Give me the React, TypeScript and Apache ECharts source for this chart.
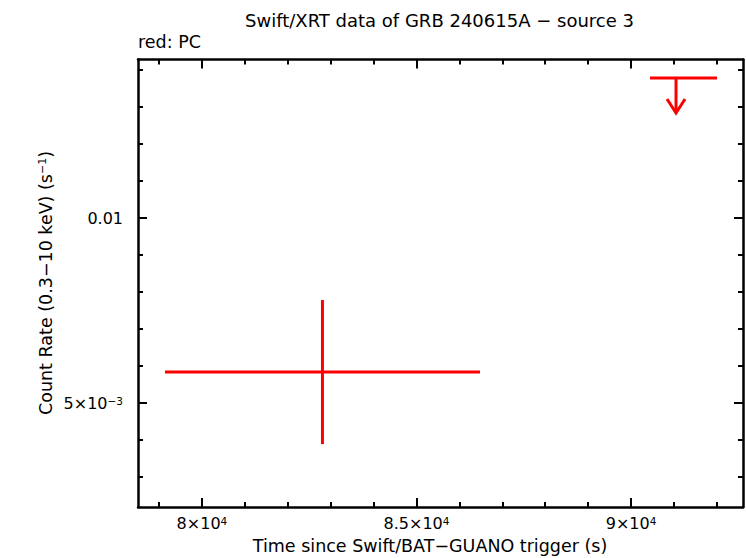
import React, { useEffect, useRef } from "react";
import * as echarts from "echarts";

// Axis ranges
const xMin = 78510;
const xMax = 92610;
const yMin = 0.003387;
const yMax = 0.018113;

// Tick values
const xMajorTicks = [80000, 85000, 90000];
const xMinorTicks = [79000, 81000, 82000, 83000, 84000, 86000, 87000, 88000, 89000, 91000, 92000];
const yMajorTicks = [0.005, 0.01];
const yMinorTicks = [0.0037893, 0.0043528, 0.0057435, 0.0065975, 0.0075786, 0.0087055, 0.011487, 0.013195, 0.015157, 0.017411];

const xTickLabels: Record<number, string> = {
  80000: "{a|8×10}{s|4}",
  85000: "{a|8.5×10}{s|4}",
  90000: "{a|9×10}{s|4}",
};
const yTickLabels: Record<string, string> = {
  "0.005": "{a|5×10}{s|−3}",
  "0.01": "{a|0.01}",
};

// PC detections
const detTime = [82809];
const detTimeLo = [79138];
const detTimeHi = [86480];
const detRate = [0.005615];
const detRateLo = [0.004287];
const detRateHi = [0.007355];

// PC upper limits
const ulTime = [91049];
const ulTimeLo = [90443];
const ulTimeHi = [92005];
const ulRate = [0.0169];

const FONT = "DejaVu Sans";
const RED = "#ff0000";

export default function App() {
  const ref = useRef<HTMLDivElement>(null);

  useEffect(() => {
    if (!ref.current) return;
    const chart = echarts.init(ref.current, null, { renderer: "svg" });

    const richTick = {
      a: { fontSize: 16, fontFamily: FONT, color: "#000" },
      s: { fontSize: 10.5, fontFamily: FONT, color: "#000", verticalAlign: "top" as const },
    };
    const axisLine = { show: true, lineStyle: { color: "#000", width: 2.5 } };
    const noLine = { show: false };

    const mkX = (pos: "bottom" | "top", major: boolean, line: boolean, labels: boolean) => ({
      type: "value" as const,
      position: pos,
      min: xMin,
      max: xMax,
      gridIndex: 0,
      axisLine: line ? axisLine : noLine,
      splitLine: { show: false },
      axisTick: {
        show: true,
        inside: true,
        length: major ? 9 : 5,
        lineStyle: { color: "#000", width: 2 },
        customValues: major ? xMajorTicks : xMinorTicks,
      },
      axisLabel: labels
        ? {
            show: true,
            margin: 8,
            customValues: xMajorTicks,
            formatter: (v: number) => xTickLabels[Math.round(v)] ?? "",
            rich: richTick,
          }
        : { show: false },
    });

    const mkY = (pos: "left" | "right", major: boolean, line: boolean, labels: boolean) => ({
      type: "log" as const,
      logBase: 10,
      position: pos,
      min: yMin,
      max: yMax,
      gridIndex: 0,
      axisLine: line ? axisLine : noLine,
      splitLine: { show: false },
      minorTick: { show: false },
      axisTick: {
        show: true,
        inside: true,
        length: major ? 9 : 5,
        lineStyle: { color: "#000", width: 2 },
        customValues: major ? yMajorTicks : yMinorTicks,
      },
      axisLabel: labels
        ? {
            show: true,
            margin: 15,
            customValues: yMajorTicks,
            formatter: (v: number) => {
              const k = String(Math.round(v * 1000) / 1000);
              return yTickLabels[k] ?? "";
            },
            rich: richTick,
          }
        : { show: false },
    });

    const detData = detTime.map((t, i) => [t, detTimeLo[i], detTimeHi[i], detRate[i], detRateLo[i], detRateHi[i]]);
    const ulData = ulTime.map((t, i) => [t, ulTimeLo[i], ulTimeHi[i], ulRate[i]]);

    const option: any = {
      animation: false,
      backgroundColor: "#fff",
      grid: { left: 138, top: 59.5, right: 3, bottom: 51, containLabel: false },
      xAxis: [
        mkX("bottom", true, true, true),
        mkX("bottom", false, false, false),
        mkX("top", true, true, false),
        mkX("top", false, false, false),
      ],
      yAxis: [
        mkY("left", true, true, true),
        mkY("left", false, false, false),
        mkY("right", true, true, false),
        mkY("right", false, false, false),
      ],
      graphic: [
        {
          type: "text",
          x: 439.5,
          y: 20,
          style: {
            text: "Swift/XRT data of GRB 240615A − source 3",
            font: `18px "${FONT}"`,
            fill: "#000",
            align: "center",
            verticalAlign: "middle",
          },
        },
        {
          type: "text",
          x: 138,
          y: 42,
          style: {
            text: "red: PC",
            font: `17.5px "${FONT}"`,
            fill: "#000",
            align: "left",
            verticalAlign: "middle",
          },
        },
        {
          type: "text",
          x: 430,
          y: 546,
          style: {
            text: "Time since Swift/BAT−GUANO trigger (s)",
            font: `17.5px "${FONT}"`,
            fill: "#000",
            align: "center",
            verticalAlign: "middle",
          },
        },
        {
          type: "text",
          x: 46,
          y: 283,
          rotation: Math.PI / 2,
          style: {
            text: "{a|Count Rate (0.3−10 keV) (s}{s|−1}{a|)}",
            rich: {
              a: { fontSize: 17.5, fontFamily: FONT, fill: "#000" },
              s: { fontSize: 11, fontFamily: FONT, fill: "#000", verticalAlign: "top" },
            },
            align: "center",
            verticalAlign: "middle",
          },
        },
      ],
      series: [
        {
          type: "custom",
          name: "PC",
          xAxisIndex: 0,
          yAxisIndex: 0,
          data: detData,
          encode: { x: 0, y: 3 },
          renderItem: (params: any, api: any) => {
            const x = api.value(0);
            const y = api.value(3);
            const pl = api.coord([api.value(1), y]);
            const ph = api.coord([api.value(2), y]);
            const pyl = api.coord([x, api.value(4)]);
            const pyh = api.coord([x, api.value(5)]);
            const st = { stroke: RED, lineWidth: 3 };
            return {
              type: "group",
              children: [
                { type: "line", shape: { x1: pl[0], y1: pl[1], x2: ph[0], y2: ph[1] }, style: st },
                { type: "line", shape: { x1: pyl[0], y1: pyl[1], x2: pyh[0], y2: pyh[1] }, style: st },
              ],
            };
          },
        },
        {
          type: "custom",
          name: "PC UL",
          xAxisIndex: 0,
          yAxisIndex: 0,
          data: ulData,
          encode: { x: 0, y: 3 },
          renderItem: (params: any, api: any) => {
            const x = api.value(0);
            const y = api.value(3);
            const pl = api.coord([api.value(1), y]);
            const ph = api.coord([api.value(2), y]);
            const c = api.coord([x, y]);
            const st = { stroke: RED, lineWidth: 3, fill: "none" };
            return {
              type: "group",
              children: [
                { type: "line", shape: { x1: pl[0], y1: pl[1], x2: ph[0], y2: ph[1] }, style: st },
                { type: "line", shape: { x1: c[0], y1: c[1], x2: c[0], y2: c[1] + 34 }, style: st },
                {
                  type: "polyline",
                  shape: { points: [[c[0] - 9, c[1] + 21], [c[0], c[1] + 35], [c[0] + 9, c[1] + 21]] },
                  style: st,
                },
              ],
            };
          },
        },
      ],
    };

    chart.setOption(option);
    return () => chart.dispose();
  }, []);

  return (
    <div
      ref={ref}
      style={{ position: "fixed", left: 0, top: 0, width: 746, height: 558, background: "#fff" }}
    />
  );
}
